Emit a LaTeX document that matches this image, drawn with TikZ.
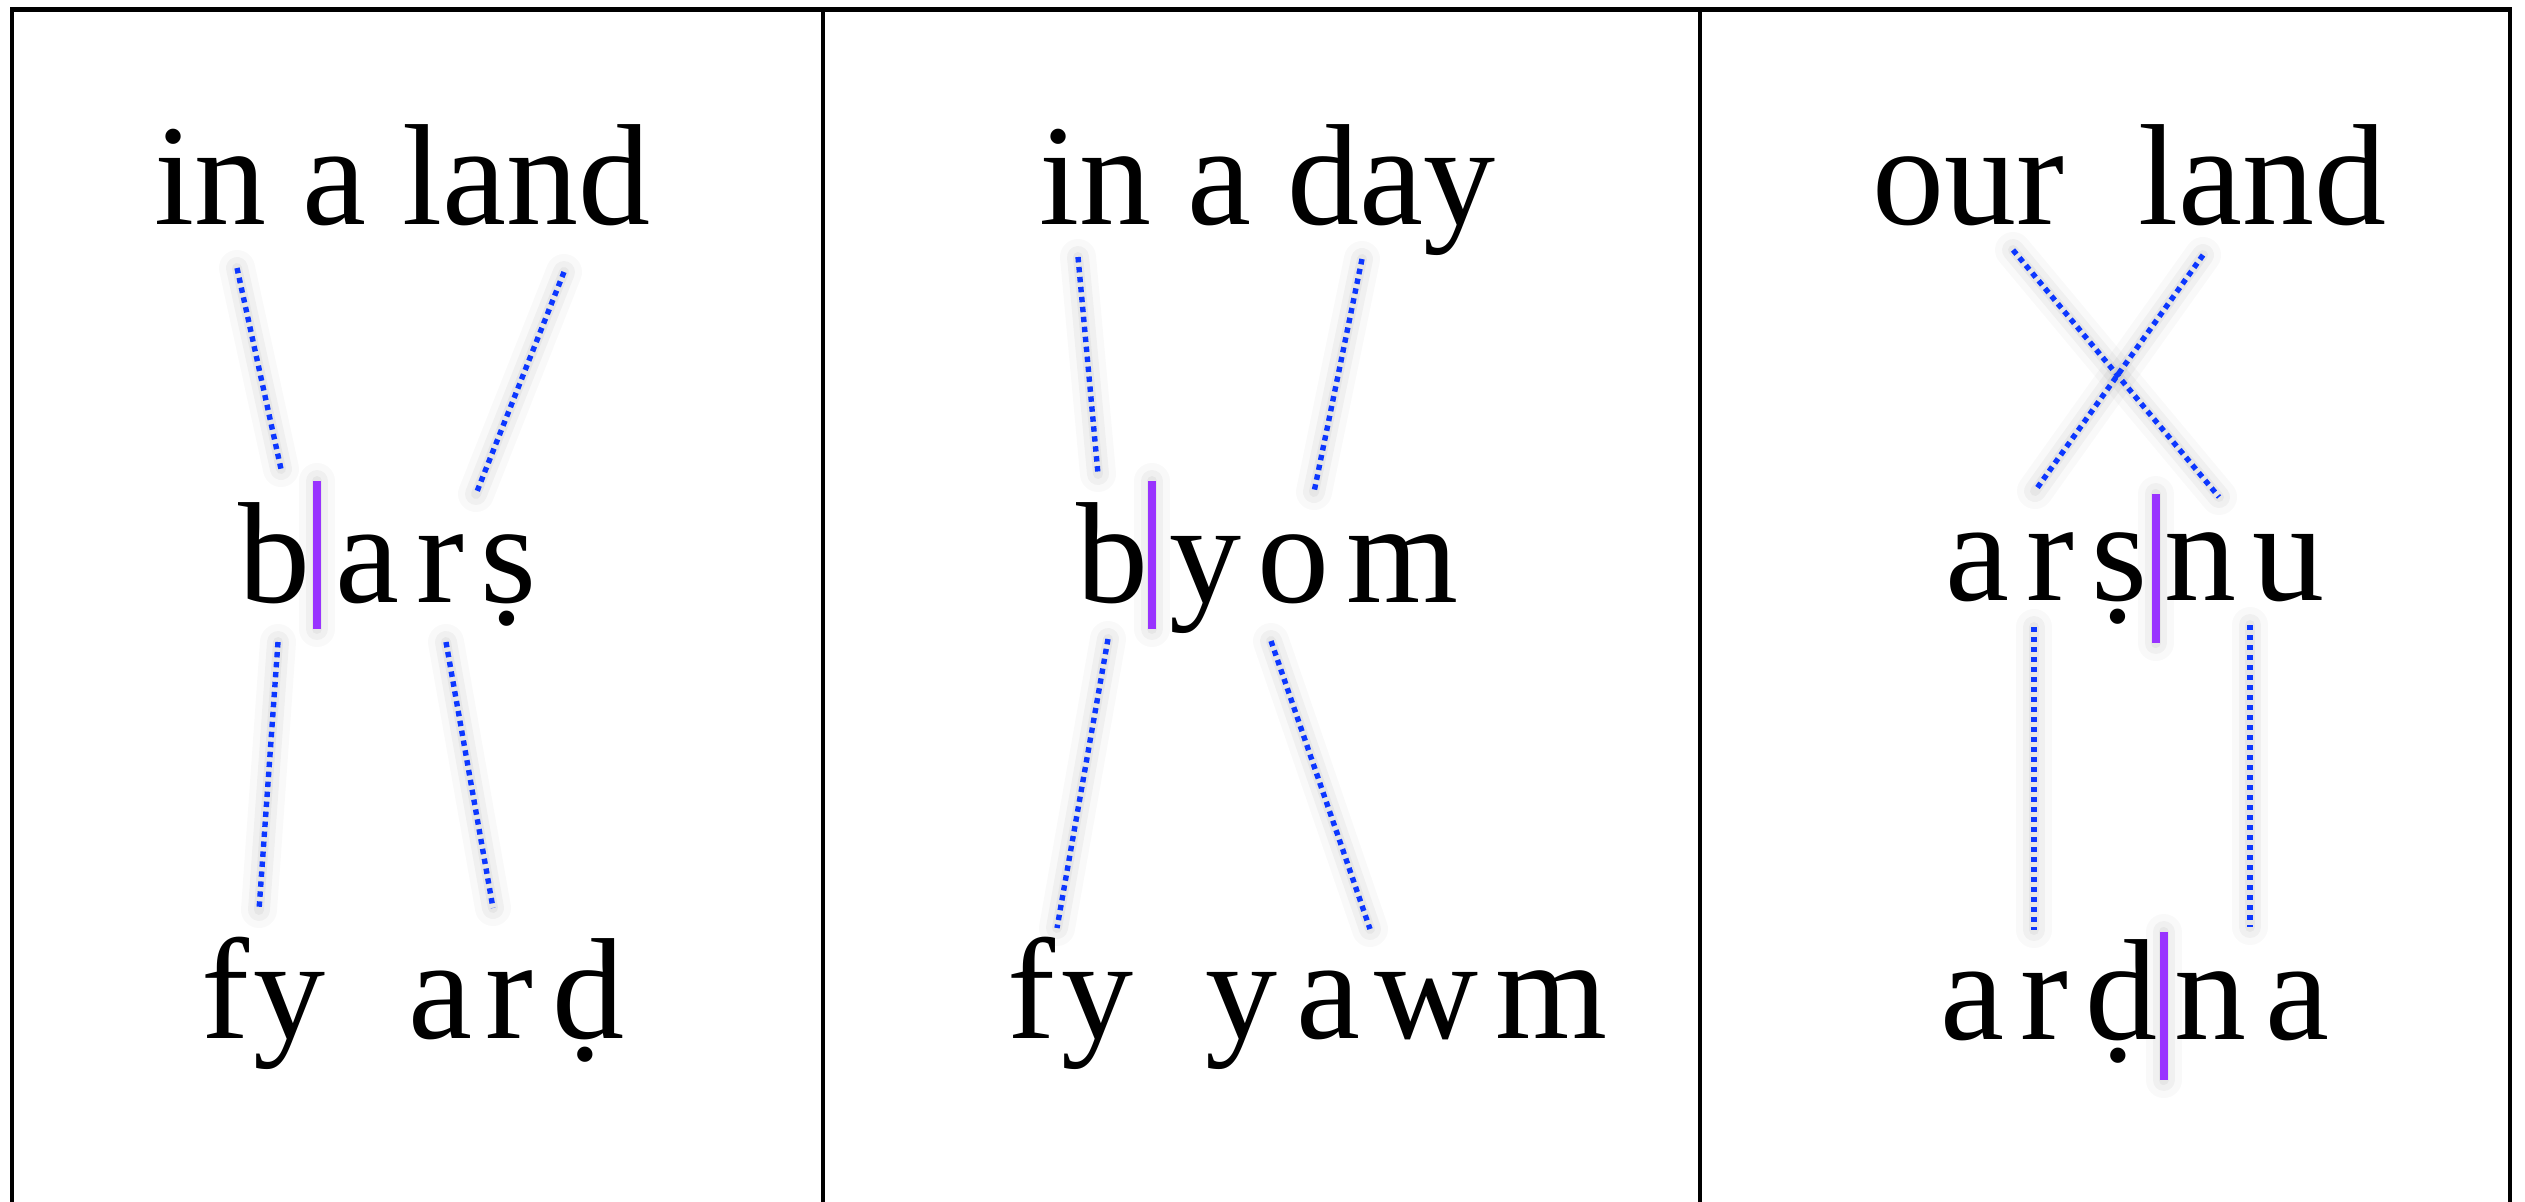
\documentclass[tikz,border=0pt]{standalone}
\usepackage{fontspec}
\setmainfont{Liberation Serif}
\definecolor{linkblue}{RGB}{12,55,255}
\definecolor{barpurple}{RGB}{153,51,255}
\begin{document}
\begin{tikzpicture}[x=0.25pt,y=-0.25pt,
  lt/.style={inner sep=0pt, outer sep=0pt, anchor=base, font=\fontsize{36}{40}\selectfont},
  frameline/.style={line width=1.1pt, draw=black},
  dotline/.style={draw=linkblue, line width=1.35pt, dash pattern=on 1.35pt off 1.15pt},
  shadowA/.style={draw=black, opacity=0.025, line width=9pt, line cap=round},
  shadowB/.style={draw=black, opacity=0.035, line width=5.5pt, line cap=round},
  shadowC/.style={draw=black, opacity=0.04, line width=2.5pt, line cap=round},
  barline/.style={draw=barpurple, line width=2pt},
]
\useasboundingbox (0,0) rectangle (2525,1201);
\fill[white] (0,0) rectangle (2525,1201);

% frame
\begin{scope}
\clip (0,0) rectangle (2525,1201);
\draw[frameline] (12,1260) -- (12,9.5) -- (2510,9.5) -- (2510,1260);
\draw[frameline] (823,9.5) -- (823,1260);
\draw[frameline] (1700,9.5) -- (1700,1260);
\end{scope}

% ---------- coordinates of connectors ----------
% panel 1
\coordinate (p1a1) at (237,268); \coordinate (p1a2) at (281,469);
\coordinate (p1b1) at (564,272); \coordinate (p1b2) at (476,494);
\coordinate (p1c1) at (278,642); \coordinate (p1c2) at (259,910);
\coordinate (p1d1) at (446,642); \coordinate (p1d2) at (493,908);
\coordinate (p1bar1) at (317,481); \coordinate (p1bar2) at (317,629);
% panel 2
\coordinate (p2a1) at (1078,257); \coordinate (p2a2) at (1098,474);
\coordinate (p2b1) at (1362,259); \coordinate (p2b2) at (1314,492);
\coordinate (p2c1) at (1108,639); \coordinate (p2c2) at (1057,928);
\coordinate (p2d1) at (1271,641); \coordinate (p2d2) at (1370,929);
\coordinate (p2bar1) at (1152,481); \coordinate (p2bar2) at (1152,629);
% panel 3
\coordinate (p3a1) at (2013,250); \coordinate (p3a2) at (2219,497);
\coordinate (p3b1) at (2203,255); \coordinate (p3b2) at (2035,491);
\coordinate (p3c1) at (2034,627); \coordinate (p3c2) at (2034,930);
\coordinate (p3d1) at (2250,625); \coordinate (p3d2) at (2250,927);
\coordinate (p3bar1) at (2155.5,494); \coordinate (p3bar2) at (2155.5,643);
\coordinate (p3bar3) at (2163.5,932); \coordinate (p3bar4) at (2163.5,1080);

% ---------- soft shadows ----------
\begin{scope}[shift={(13,10)}]
\foreach \s in {shadowA,shadowB,shadowC}{
  \draw[\s] (p1a1) -- (p1a2); \draw[\s] (p1b1) -- (p1b2);
  \draw[\s] (p1c1) -- (p1c2); \draw[\s] (p1d1) -- (p1d2);
  \draw[\s] (p2a1) -- (p2a2); \draw[\s] (p2b1) -- (p2b2);
  \draw[\s] (p2c1) -- (p2c2); \draw[\s] (p2d1) -- (p2d2);
  \draw[\s] (p3a1) -- (p3a2); \draw[\s] (p3b1) -- (p3b2);
  \draw[\s] (p3c1) -- (p3c2); \draw[\s] (p3d1) -- (p3d2);
}
\end{scope}
\begin{scope}[shift={(13,10)}]
\foreach \s in {shadowA,shadowB,shadowC}{
  \draw[\s] (p1bar1) -- (p1bar2); \draw[\s] (p2bar1) -- (p2bar2);
  \draw[\s] (p3bar1) -- (p3bar2); \draw[\s] (p3bar3) -- (p3bar4);
}
\end{scope}

% ---------- texts ----------
% panel 1
\node[lt] (t1) at (402,224) {in a land};
\node[lt] (m1b) at (274,602) {b};
\node[lt] (m1a) at (367,602) {a};
\node[lt] (m1r) at (440,602) {r};
\node[lt] (m1s) at (509,602) {ṣ};
\node[lt] (b1f) at (225,1038) {f};
\node[lt] (b1y) at (289,1038) {y};
\node[lt] (b1a) at (440,1038) {a};
\node[lt] (b1r) at (509,1038) {r};
\node[lt] (b1d) at (588,1038) {ḍ};
% panel 2
\node[lt] (t2) at (1267,224) {in a day};
\node[lt] (m2b) at (1112,602) {b};
\node[lt] (m2y) at (1205,602) {y};
\node[lt] (m2o) at (1293,602) {o};
\node[lt] (m2m) at (1402,602) {m};
\node[lt] (b2f) at (1031,1038) {f};
\node[lt] (b2y) at (1097,1038) {y};
\node[lt] (b2y2) at (1241,1038) {y};
\node[lt] (b2a) at (1328,1038) {a};
\node[lt] (b2w) at (1426,1038) {w};
\node[lt] (b2m) at (1551,1038) {m};
% panel 3
\node[lt] (t3a) at (1968,224) {our};
\node[lt] (t3b) at (2262,224) {land};
\node[lt] (m3a) at (1977,600) {a};
\node[lt] (m3r) at (2050,600) {r};
\node[lt] (m3s) at (2119,600) {ṣ};
\node[lt] (m3n) at (2200,600) {n};
\node[lt] (m3u) at (2288,600) {u};
\node[lt] (b3a) at (1972,1039) {a};
\node[lt] (b3r) at (2044,1039) {r};
\node[lt] (b3d) at (2121,1039) {ḍ};
\node[lt] (b3n) at (2210,1039) {n};
\node[lt] (b3a2) at (2297,1039) {a};

% ---------- dotted connectors ----------
\draw[dotline] (p1a1) -- (p1a2); \draw[dotline] (p1b1) -- (p1b2);
\draw[dotline] (p1c1) -- (p1c2); \draw[dotline] (p1d1) -- (p1d2);
\draw[dotline] (p2a1) -- (p2a2); \draw[dotline] (p2b1) -- (p2b2);
\draw[dotline] (p2c1) -- (p2c2); \draw[dotline] (p2d1) -- (p2d2);
\draw[dotline] (p3a1) -- (p3a2); \draw[dotline] (p3b1) -- (p3b2);
\draw[dotline] (p3c1) -- (p3c2); \draw[dotline] (p3d1) -- (p3d2);

% ---------- purple boundary bars ----------
\draw[barline] (p1bar1) -- (p1bar2);
\draw[barline] (p2bar1) -- (p2bar2);
\draw[barline] (p3bar1) -- (p3bar2);
\draw[barline] (p3bar3) -- (p3bar4);
\end{tikzpicture}
\end{document}
